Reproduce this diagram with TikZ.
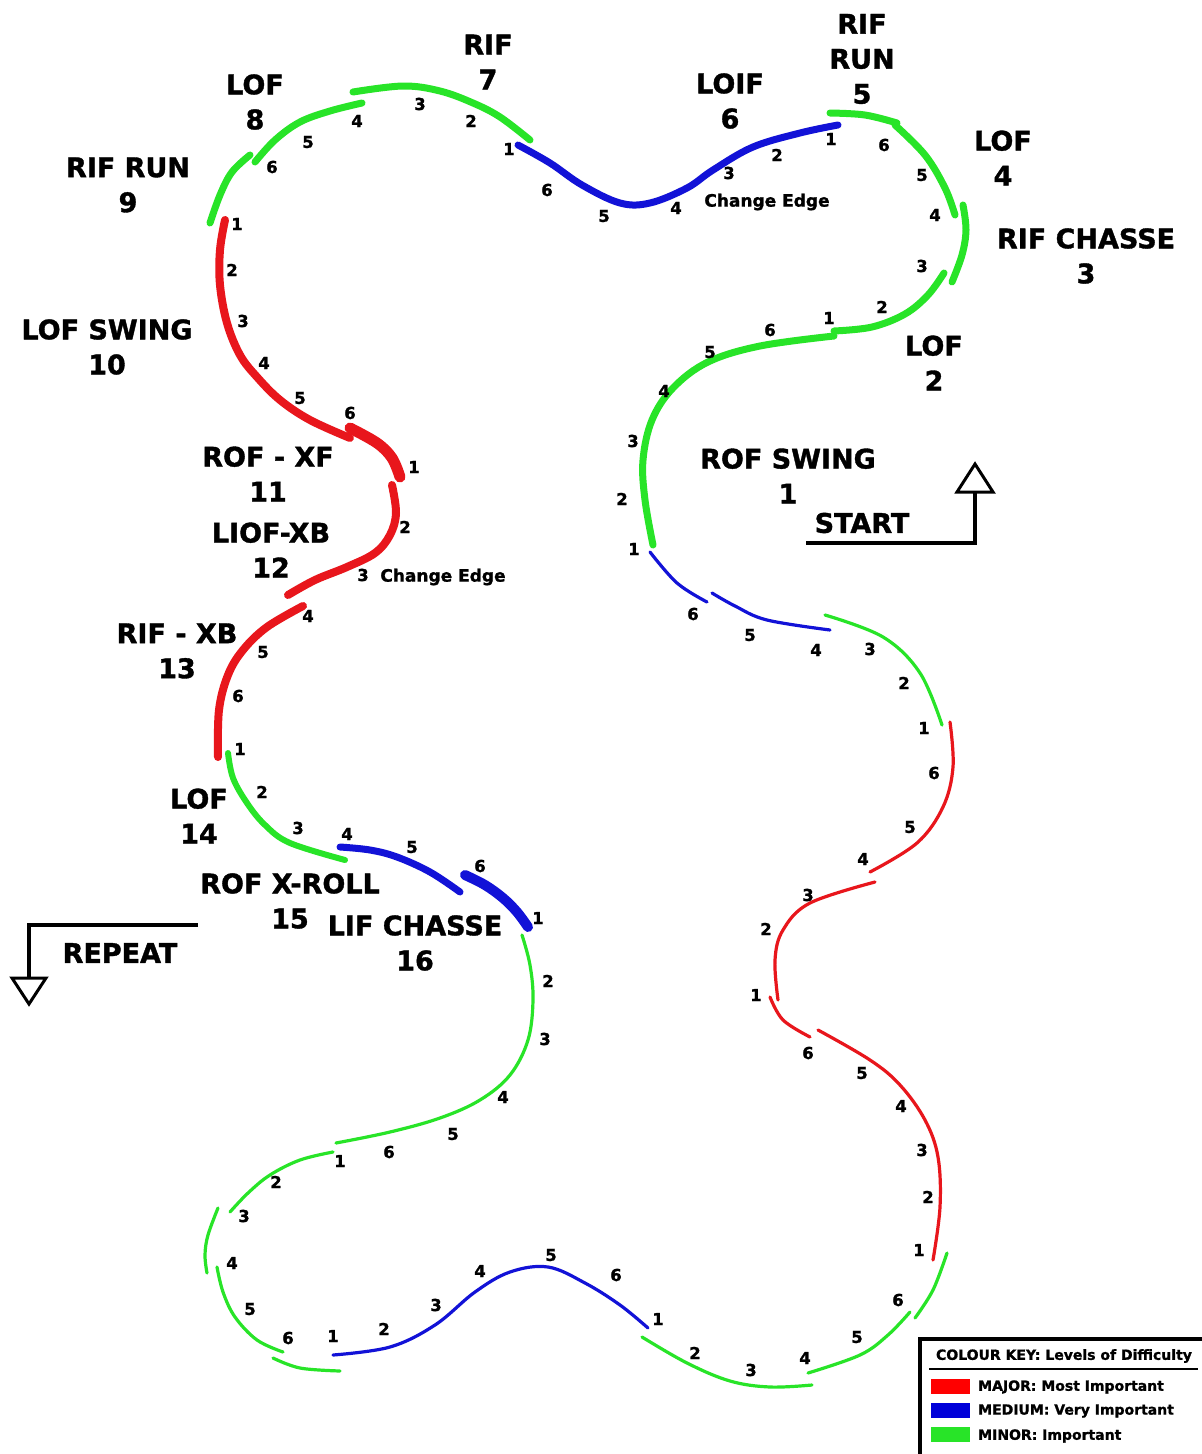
\documentclass[tikz,border=0pt]{standalone}
\usepackage{fontspec}
\setmainfont{DejaVu Sans}[BoldFeatures={FakeBold=1.3}]
\definecolor{mred}{RGB}{232,22,28}
\definecolor{mblue}{RGB}{18,18,215}
\definecolor{mgreen}{RGB}{40,228,40}
\begin{document}
\begin{tikzpicture}[x=1pt,y=-1pt,
  thk/.style={line width=7, line cap=round},
  thn/.style={line width=3.2, line cap=round},
  big/.style={font=\fontsize{27}{35}\selectfont\bfseries, align=center, inner sep=0},
  num/.style={font=\fontsize{16.5}{16.5}\selectfont\bfseries, inner sep=0},
  note/.style={font=\fontsize{17}{17}\selectfont\bfseries, inner sep=0},
  keytxt/.style={font=\fontsize{14}{14}\selectfont\bfseries, inner sep=0},
  arr/.style={line width=4, line join=miter},
  tri/.style={line width=3, fill=white, line join=miter}]
\useasboundingbox (0,0) rectangle (1202,1454);
\fill[white] (0,0) rectangle (1202,1454);

% ---------- upper (thick) pattern ----------
\draw[thk, mgreen] plot[smooth, tension=0.6] coordinates {(653,545) (645,500) (643,460) (652,420) (673,388) (708,362) (760,346) (834,336)};
\draw[thk, mgreen] plot[smooth, tension=0.6] coordinates {(834,331) (872,327) (905,314) (928,295) (944,273)};
\draw[thk, mgreen] plot[smooth, tension=0.6] coordinates {(952,282) (962,255) (966,230) (963,205)};
\draw[thk, mgreen] plot[smooth, tension=0.6] coordinates {(955,215) (945,188) (925,155) (895,125)};
\draw[thk, mgreen] plot[smooth, tension=0.6] coordinates {(897,123) (865,115) (830,113)};
\draw[thk, mblue] plot[smooth, tension=0.6] coordinates {(838,125) (800,133) (753,147) (713,170) (687,188) (650,203) (620,203) (582,185) (550,163) (518,145)};
\draw[thk, mgreen] plot[smooth, tension=0.6] coordinates {(530,140) (500,117) (473,103) (440,91) (403,86) (353,92)};
\draw[thk, mgreen] plot[smooth, tension=0.6] coordinates {(362,103) (330,111) (300,122) (275,140) (255,162)};
\draw[thk, mgreen] plot[smooth, tension=0.6] coordinates {(250,155) (232,172) (220,195) (210,223)};
\draw[thk, mred, line width=8] plot[smooth, tension=0.6] coordinates {(225,220) (220,250) (220,285) (227,323) (240,355) (257,377) (280,400) (310,420) (350,438)};
\draw[thk, mred, line width=11] plot[smooth, tension=0.6] coordinates {(350,428) (377,443) (392,458) (400,477)};
\draw[thk, mred, line width=8] plot[smooth, tension=0.6] coordinates {(392,485) (396,513) (390,535) (375,553) (347,567) (315,580) (288,595)};
\draw[thk, mred, line width=8] plot[smooth, tension=0.6] coordinates {(303,606) (267,627) (243,650) (228,675) (219,710) (218,757)};
\draw[thk, mgreen, line width=6] plot[smooth, tension=0.6] coordinates {(228,753) (233,778) (247,803) (265,825) (290,843) (345,860)};
\draw[thk, mblue] plot[smooth, tension=0.6] coordinates {(340,847) (370,850) (397,857) (430,872) (460,892)};
\draw[thk, mblue, line width=10] plot[smooth, tension=0.6] coordinates {(465,875) (485,885) (503,898) (517,912) (528,927)};

% ---------- lower (thin) pattern ----------
\draw[thn, mgreen] plot[smooth, tension=0.6] coordinates {(522,935) (530,965) (533,1000) (528,1040) (510,1075) (480,1100) (440,1118) (390,1132) (336,1143)};
\draw[thn, mgreen] plot[smooth, tension=0.6] coordinates {(333,1152) (300,1160) (270,1175) (248,1193) (230,1212)};
\draw[thn, mgreen] plot[smooth, tension=0.6] coordinates {(218,1208) (208,1235) (205,1255) (207,1273)};
\draw[thn, mgreen] plot[smooth, tension=0.6] coordinates {(217,1267) (223,1292) (235,1317) (257,1340) (283,1352)};
\draw[thn, mgreen] plot[smooth, tension=0.6] coordinates {(273,1358) (300,1368) (340,1371)};
\draw[thn, mblue] plot[smooth, tension=0.6] coordinates {(333,1355) (390,1347) (435,1325) (475,1292) (510,1272) (548,1267) (585,1283) (620,1305) (648,1328)};
\draw[thn, mgreen] plot[smooth, tension=0.6] coordinates {(642,1337) (687,1363) (730,1381) (770,1387) (812,1385)};
\draw[thn, mgreen] plot[smooth, tension=0.6] coordinates {(808,1373) (860,1355) (888,1335) (910,1312)};
\draw[thn, mgreen] plot[smooth, tension=0.6] coordinates {(915,1318) (933,1290) (947,1253)};
\draw[thn, mred] plot[smooth, tension=0.6] coordinates {(933,1260) (940,1207) (938,1157) (925,1120) (900,1085) (870,1060) (818,1030)};
\draw[thn, mred] plot[smooth, tension=0.6] coordinates {(810,1037) (783,1020) (770,997)};
\draw[thn, mred] plot[smooth, tension=0.6] coordinates {(778,1000) (775,960) (783,930) (810,903) (875,882)};
\draw[thn, mred] plot[smooth, tension=0.6] coordinates {(870,872) (917,843) (943,807) (953,767) (950,722)};
\draw[thn, mgreen] plot[smooth, tension=0.6] coordinates {(942,725) (920,673) (883,637) (825,615)};
\draw[thn, mblue] plot[smooth, tension=0.6] coordinates {(830,630) (767,620) (735,606) (712,593)};
\draw[thn, mblue] plot[smooth, tension=0.6] coordinates {(707,602) (677,583) (650,552)};

% ---------- step numbers ----------
\foreach \px/\py/\t [count=\i] in {
 357/121/4, 420/104/3, 471/121/2, 308/142/5, 272/167/6, 509/149/1, 237/224/1,
 547/190/6, 604/216/5, 676/208/4, 729/173/3, 777/155/2, 831/139/1,
 884/145/6, 922/175/5, 935/215/4, 922/266/3, 882/307/2, 829/318/1,
 770/330/6, 710/352/5, 664/391/4, 633/441/3, 622/499/2, 634/549/1,
 232/270/2, 243/321/3, 264/363/4, 300/398/5, 350/413/6, 414/467/1, 405/527/2, 363/575/3,
 308/616/4, 263/652/5, 238/696/6, 240/749/1, 262/792/2, 298/828/3, 347/834/4, 412/847/5, 480/866/6, 538/918/1,
 548/981/2, 545/1039/3, 503/1097/4, 453/1134/5, 389/1152/6, 340/1161/1, 276/1182/2, 244/1216/3, 232/1263/4,
 250/1309/5, 288/1338/6, 333/1336/1, 384/1329/2, 436/1305/3, 480/1271/4, 551/1255/5, 616/1275/6,
 658/1319/1, 695/1353/2, 751/1370/3, 805/1358/4, 857/1337/5, 898/1300/6, 919/1250/1, 928/1197/2,
 922/1150/3, 901/1106/4, 862/1073/5, 808/1053/6, 756/995/1, 766/929/2, 808/895/3, 863/859/4,
 910/827/5, 934/773/6, 924/728/1, 904/683/2, 870/649/3, 816/650/4, 750/635/5, 693/614/6}
 \node[num] (n\i) at (\px,\py) {\t};

\node[note] (ce1) at (767,202) {Change Edge};
\node[note] (ce2) at (443,577) {Change Edge};

% ---------- element labels ----------
\node[big] (l1) at (788,476) {ROF SWING\\1};
\node[big] (l2) at (934,363) {LOF\\2};
\node[big] (l3) at (1086,256) {RIF CHASSE\\3};
\node[big] (l4) at (1003,158) {LOF\\4};
\node[big] (l5) at (862,59) {RIF\\RUN\\5};
\node[big] (l6) at (730,101) {LOIF\\6};
\node[big] (l7) at (488,62) {RIF\\7};
\node[big] (l8) at (255,102) {LOF\\8};
\node[big] (l9) at (128,185) {RIF RUN\\9};
\node[big] (l10) at (107,347) {LOF SWING\\10};
\node[big] (l11) at (268,474) {ROF - XF\\11};
\node[big] (l12) at (271,550) {LIOF-XB\\12};
\node[big] (l13) at (177,651) {RIF - XB\\13};
\node[big] (l14) at (199,816) {LOF\\14};
\node[big] (l15) at (290,901) {ROF X-ROLL\\15};
\node[big] (l16) at (415,943) {LIF CHASSE\\16};

% ---------- start / repeat ----------
\node[big] (start) at (862,523) {START};
\coordinate (s0) at (806,543);
\coordinate (s1) at (975,543);
\coordinate (s2) at (975,492);
\draw[arr] (s0) -- (s1) -- (s2);
\draw[tri] (957,492) -- (993,492) -- (975,464) -- cycle;

\node[big] (repeat) at (120,953) {REPEAT};
\coordinate (r0) at (198,925);
\coordinate (r1) at (29,925);
\coordinate (r2) at (29,978);
\draw[arr] (r0) -- (r1) -- (r2);
\draw[tri] (12,978) -- (46,978) -- (29,1004) -- cycle;

% ---------- colour key ----------
\draw[line width=4] (920,1470) -- (920,1339) -- (1215,1339);
\node[keytxt] (kt) at (1064,1356) {COLOUR KEY: Levels of Difficulty};
\draw[line width=1.3] (929,1369) -- (1198,1369);
\fill[red] (931,1379) rectangle (970,1394);
\fill[blue!85!black] (931,1403) rectangle (970,1418);
\fill[mgreen] (931,1427) rectangle (970,1442);
\node[keytxt, anchor=west] (k1) at (978,1387) {MAJOR: Most Important};
\node[keytxt, anchor=west] (k2) at (978,1411) {MEDIUM: Very Important};
\node[keytxt, anchor=west] (k3) at (978,1436) {MINOR: Important};
\end{tikzpicture}
\end{document}
